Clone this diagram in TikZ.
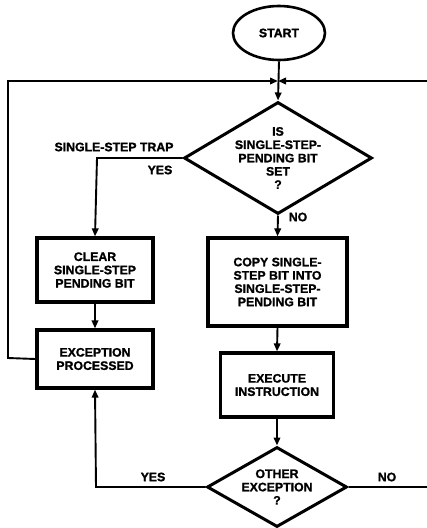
\documentclass[tikz,border=0pt]{standalone}
\usepackage{fontspec}
\setmainfont[BoldFeatures={FakeBold=1.2}]{Liberation Sans}
\usetikzlibrary{shapes.geometric,arrows.meta}
\begin{document}
\begin{tikzpicture}[x=1pt,y=-1pt,
  every node/.style={font=\fontsize{12.3}{13.3}\selectfont\bfseries, align=center, inner sep=0pt},
  procbox/.style={draw, line width=3.2pt, rectangle},
  decision/.style={draw, line width=3pt, diamond, inner sep=-3pt},
  term/.style={draw, line width=2.6pt, ellipse},
  conn/.style={line width=1.9pt},
  arr/.style={conn, -{Triangle[length=8pt,width=6.5pt]}},
  lbl/.style={font=\fontsize{12.3}{13.3}\selectfont\bfseries}
]
\useasboundingbox (0,0) rectangle (427,528);

\node[term, minimum width=92pt, minimum height=54pt] (start) at (279,33) {START};
\node[decision, minimum width=188pt, minimum height=112pt, aspect=1.68] (d1) at (278,158)
  {IS\\SINGLE-STEP-\\PENDING BIT\\SET\\?};
\node[procbox, minimum width=116pt, minimum height=64pt] (clear) at (95,270)
  {CLEAR\\SINGLE-STEP\\PENDING BIT};
\node[procbox, minimum width=116pt, minimum height=58pt] (exc) at (95,359)
  {EXCEPTION\\PROCESSED};
\node[procbox, minimum width=139pt, minimum height=88pt] (copy) at (277.5,282)
  {COPY SINGLE-\\STEP BIT INTO\\SINGLE-STEP-\\PENDING BIT};
\node[procbox, minimum width=113pt, minimum height=64pt] (exec) at (277,385)
  {EXECUTE\\INSTRUCTION};
\node[decision, minimum width=140pt, minimum height=80pt, aspect=1.75] (d2) at (277,487)
  {OTHER\\EXCEPTION\\?};

\coordinate (J) at (278,81);
\coordinate (ltop) at (8,81);
\coordinate (rtop) at (427,81);
\coordinate (lbot) at (8,358);
\coordinate (rbot) at (427,487);
\coordinate (ybend) at (97,158);
\coordinate (nbend) at (96,487);

\draw[arr] (start.south) -- (d1.north);
\draw[arr] (exc.west) -- (lbot) -- (ltop) -- (J);
\draw[arr] (rtop) -- (J);
\draw[arr] (d1.west) -- (ybend) -- (clear.north);
\draw[arr] (d1.south) -- (copy.north);
\draw[arr] (copy.south) -- (exec.north);
\draw[arr] (exec.south) -- (d2.north);
\draw[arr] (clear.south) -- (exc.north);
\draw[arr] (d2.west) -- (nbend) -- (exc.south);
\draw[conn] (d2.east) -- (rbot);

\node[lbl] (trap) at (114,147) {SINGLE-STEP TRAP};
\node[lbl] (yes1) at (160,170) {YES};
\node[lbl] (no1) at (298,217) {NO};
\node[lbl] (yes2) at (153,477) {YES};
\node[lbl] (no2) at (387,477) {NO};
\end{tikzpicture}
\end{document}
